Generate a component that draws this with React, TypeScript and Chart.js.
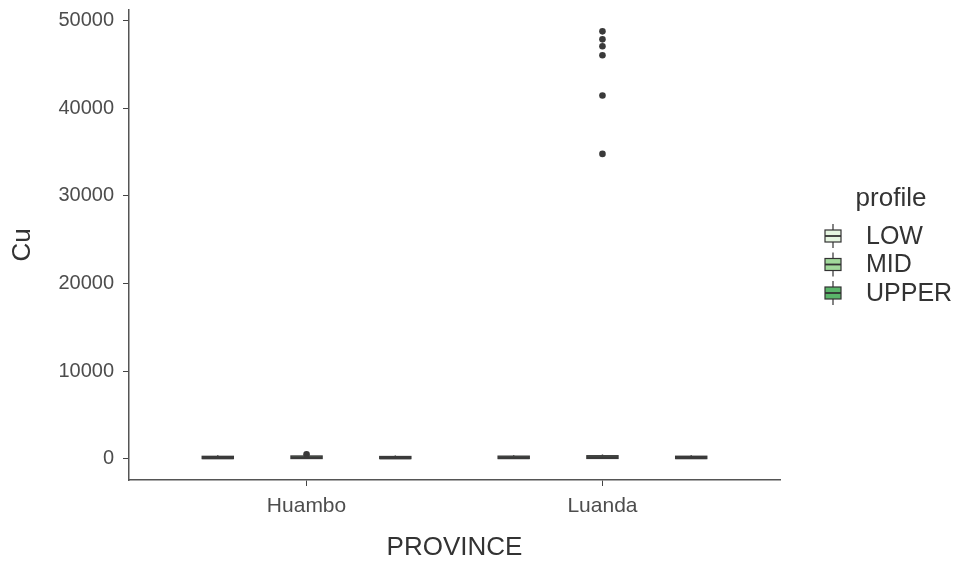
import React, { useEffect, useRef } from 'react';
import { Chart, registerables } from 'chart.js';

Chart.register(...registerables);

const FONT = '"Liberation Sans", Arial, Helvetica, sans-serif';

const provinces = ['Huambo', 'Luanda'];
const profiles = ['LOW', 'MID', 'UPPER'];
const profileColors = ['#e5f5e0', '#a1d99b', '#5ab56a'];
const profileOffsets = [-0.3, 0, 0.3];
const yTicks = [0, 10000, 20000, 30000, 40000, 50000];

// One entry per box: Huambo LOW, MID, UPPER, Luanda LOW, MID, UPPER
const boxProvince = [0, 0, 0, 1, 1, 1];
const boxProfile = [0, 1, 2, 0, 1, 2];
const whiskerLow = [2, 3, 2, 4, 5, 3];
const q1 = [15, 20, 14, 20, 30, 18];
const median = [90, 110, 80, 100, 140, 95];
const q3 = [260, 300, 240, 280, 330, 270];
const whiskerHigh = [380, 420, 350, 400, 460, 390];

// Outliers
const outlierProvince = [0, 1, 1, 1, 1, 1, 1];
const outlierProfile = [1, 1, 1, 1, 1, 1, 1];
const outlierValues = [500, 48750, 47840, 47050, 46020, 41440, 34770];

const BOX_HALF = 0.0525;

const allValues = [...whiskerLow, ...whiskerHigh, ...outlierValues];
const dataMin = Math.min(...allValues);
const dataMax = Math.max(...allValues);
const yPad = 0.05 * (dataMax - dataMin);

const boxPlugin = {
  id: 'boxes',
  beforeDatasetsDraw(chart: any) {
    const { ctx, scales } = chart;
    const x = scales.x;
    const y = scales.y;
    ctx.save();
    const hw = x.getPixelForValue(BOX_HALF) - x.getPixelForValue(0);
    for (let i = 0; i < boxProvince.length; i++) {
      const cx = x.getPixelForValue(boxProvince[i] + 1 + profileOffsets[boxProfile[i]]);
      const yq1 = y.getPixelForValue(q1[i]);
      const yq3 = y.getPixelForValue(q3[i]);
      const ym = y.getPixelForValue(median[i]);
      const ylo = y.getPixelForValue(whiskerLow[i]);
      const yhi = y.getPixelForValue(whiskerHigh[i]);
      ctx.strokeStyle = '#3a3a3a';
      ctx.lineWidth = 1.4;
      ctx.beginPath();
      ctx.moveTo(cx, yhi);
      ctx.lineTo(cx, yq3);
      ctx.moveTo(cx, yq1);
      ctx.lineTo(cx, ylo);
      ctx.stroke();
      ctx.fillStyle = profileColors[boxProfile[i]];
      ctx.fillRect(cx - hw, yq3, 2 * hw, yq1 - yq3);
      ctx.strokeRect(cx - hw, yq3, 2 * hw, yq1 - yq3);
      ctx.lineWidth = 2.6;
      ctx.beginPath();
      ctx.moveTo(cx - hw, ym);
      ctx.lineTo(cx + hw, ym);
      ctx.stroke();
    }
    ctx.restore();
  },
};

const legendPlugin = {
  id: 'profileLegend',
  afterDraw(chart: any) {
    const { ctx, chartArea } = chart;
    const midY = (chartArea.top + chartArea.bottom) / 2;
    const keyLeft = chartArea.right + 44;
    const keyW = 18;
    const keyH = 28.5;
    const textX = keyLeft + 42;
    ctx.save();
    ctx.fillStyle = '#333333';
    ctx.font = `26px ${FONT}`;
    ctx.textAlign = 'center';
    ctx.textBaseline = 'middle';
    ctx.fillText('profile', keyLeft + 67, midY - 46);
    const firstY = midY - 9;
    profiles.forEach((p, i) => {
      const cy = firstY + i * keyH;
      const cx = keyLeft + keyW / 2;
      ctx.strokeStyle = '#333333';
      ctx.lineWidth = 1.2;
      ctx.beginPath();
      ctx.moveTo(cx, cy - 12);
      ctx.lineTo(cx, cy - 6);
      ctx.moveTo(cx, cy + 6);
      ctx.lineTo(cx, cy + 12);
      ctx.stroke();
      ctx.fillStyle = profileColors[i];
      ctx.fillRect(keyLeft + 1, cy - 6, keyW - 2, 12);
      ctx.strokeRect(keyLeft + 1, cy - 6, keyW - 2, 12);
      ctx.lineWidth = 1.8;
      ctx.beginPath();
      ctx.moveTo(keyLeft + 1, cy);
      ctx.lineTo(keyLeft + keyW - 1, cy);
      ctx.stroke();
      ctx.fillStyle = '#333333';
      ctx.font = `25px ${FONT}`;
      ctx.textAlign = 'left';
      ctx.fillText(p, textX, cy + 1);
    });
    ctx.restore();
  },
};

export default function App() {
  const canvasRef = useRef<HTMLCanvasElement | null>(null);

  useEffect(() => {
    const canvas = canvasRef.current;
    if (!canvas) return;
    const chart = new Chart(canvas, {
      type: 'scatter',
      data: {
        datasets: [
          {
            label: 'outliers',
            data: outlierValues.map((v, i) => ({
              x: outlierProvince[i] + 1 + profileOffsets[outlierProfile[i]],
              y: v,
            })),
            pointRadius: 3.3,
            pointHoverRadius: 3.3,
            pointBackgroundColor: '#3a3a3a',
            pointBorderWidth: 0,
            showLine: false,
          },
        ],
      },
      options: {
        responsive: false,
        animation: false,
        events: [],
        layout: { padding: { left: 0, top: 10, right: 185, bottom: 0 } },
        plugins: {
          legend: { display: false },
          tooltip: { enabled: false },
        },
        scales: {
          x: {
            type: 'linear',
            min: 0.4,
            max: 2.6,
            afterBuildTicks: (axis: any) => {
              axis.ticks = provinces.map((_, i) => ({ value: i + 1 }));
            },
            afterFit: (scale: any) => {
              scale.height = 83;
              scale.paddingLeft = 0;
              scale.paddingRight = 0;
            },
            ticks: {
              callback: (v: any) => provinces[Math.round(Number(v)) - 1] ?? '',
              color: '#4d4d4d',
              font: { family: FONT, size: 21 },
              padding: 8,
              maxRotation: 0,
              autoSkip: false,
            },
            grid: {
              drawOnChartArea: false,
              drawTicks: true,
              tickLength: 6,
              color: '#444444',
              lineWidth: 1,
            },
            border: { display: true, color: '#555555', width: 1.5 },
            title: {
              display: true,
              text: 'PROVINCE',
              color: '#333333',
              font: { family: FONT, size: 26, lineHeight: 1.2 },
              padding: { top: 3, bottom: 0 },
            },
          },
          y: {
            type: 'linear',
            min: dataMin - yPad,
            max: dataMax + yPad,
            afterBuildTicks: (axis: any) => {
              axis.ticks = yTicks.map((v) => ({ value: v }));
            },
            afterFit: (scale: any) => {
              scale.width = 129;
              scale.paddingTop = 0;
              scale.paddingBottom = 0;
            },
            ticks: {
              callback: (v: any) => String(v),
              color: '#4d4d4d',
              font: { family: FONT, size: 20 },
              padding: 9,
            },
            grid: {
              drawOnChartArea: false,
              drawTicks: true,
              tickLength: 6,
              color: '#444444',
              lineWidth: 1,
            },
            border: { display: true, color: '#555555', width: 1.5 },
            title: {
              display: true,
              text: 'Cu',
              color: '#333333',
              font: { family: FONT, size: 26, lineHeight: 1.2 },
              padding: { top: 7, bottom: 0 },
            },
          },
        },
      } as any,
      plugins: [boxPlugin, legendPlugin],
    });
    return () => chart.destroy();
  }, []);

  return (
    <div style={{ position: 'fixed', left: 0, top: 0, width: 965, height: 563, background: '#ffffff' }}>
      <canvas ref={canvasRef} width={965} height={563} style={{ display: 'block', width: 965, height: 563 }} />
    </div>
  );
}
